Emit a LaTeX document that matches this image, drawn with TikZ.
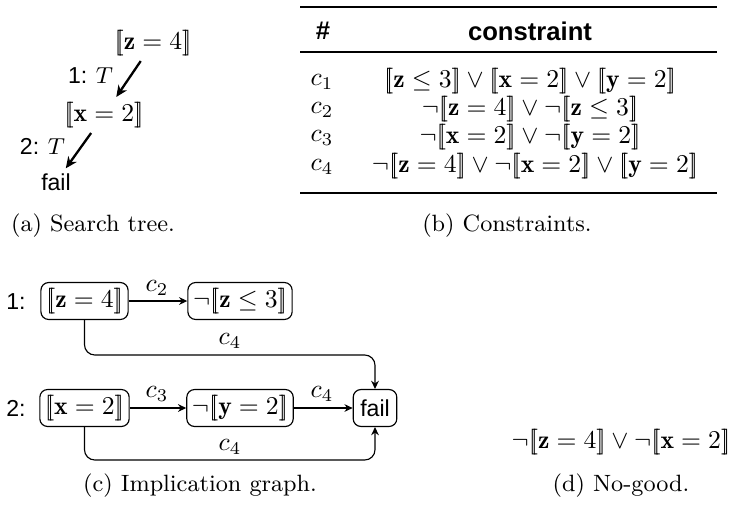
\documentclass[tikz,border=0pt]{standalone}
\usepackage{fontspec}
\newfontfamily\sansf{Liberation Sans}
\usetikzlibrary{arrows.meta}
\newcommand{\lb}{\mathopen{[\mkern-3.5mu[}}
\newcommand{\rb}{\mathclose{]\mkern-3.5mu]}}
\newcommand{\bz}{\mathbf{z}}
\newcommand{\bx}{\mathbf{x}}
\newcommand{\by}{\mathbf{y}}
\newcommand{\sfs}{\sansf\fontsize{9}{11}\selectfont}
\begin{document}
\begin{tikzpicture}[x=0.39pt,y=-0.39pt,
  box/.style={draw, rounded corners=3pt, minimum height=14.4pt, inner xsep=2pt, inner ysep=1pt, line width=0.45pt},
  arr/.style={-{Stealth[length=3.2pt,width=3pt]}, line width=0.45pt},
  treearr/.style={-{Stealth[length=4.5pt,width=4pt]}, line width=0.9pt, shorten <=1pt, shorten >=1pt},
  tnode/.style={inner sep=1pt},
  lbl/.style={inner sep=1pt},
  captxt/.style={font=\fontsize{9.2}{11}\selectfont},
  rule/.style={line width=0.45pt},
  thickrule/.style={line width=0.8pt}]
\useasboundingbox (0,0) rectangle (731,507);
% (a) search tree
\node[tnode] (tz) at (153,43) {$\lb\bz = 4\rb$};
\node[tnode] (tx) at (104,115) {$\lb\bx = 2\rb$};
\node[tnode] (tf) at (56,182) {\sfs fail};
\draw[treearr] (tz) -- (tx);
\draw[treearr] (tx) -- (tf);
\node[anchor=east, lbl] (t1) at (116,76) {\sfs 1: $T$};
\node[anchor=east, lbl] (t2) at (68,146) {\sfs 2: $T$};
\node[captxt] (capa) at (93,226) {(a) Search tree.};
% (b) constraints
\draw[thickrule] (300,7) -- (717,7);
\draw[rule] (300,52) -- (717,52);
\draw[thickrule] (300,193) -- (717,193);
\node (hh) at (323,31) {\sansf\bfseries \#};
\node (hc) at (530,31) {\sansf\bfseries constraint};
\node (r1a) at (322,82) {$c_1$};
\node (r1b) at (530,81) {$\lb\bz \le 3\rb \vee \lb\bx = 2\rb \vee \lb\by = 2\rb$};
\node (r2a) at (322,110) {$c_2$};
\node (r2b) at (530,109) {$\neg\lb\bz = 4\rb \vee \neg\lb\bz \le 3\rb$};
\node (r3a) at (322,138) {$c_3$};
\node (r3b) at (530,137) {$\neg\lb\bx = 2\rb \vee \neg\lb\by = 2\rb$};
\node (r4a) at (322,167) {$c_4$};
\node (r4b) at (535,166) {$\neg\lb\bz = 4\rb \vee \neg\lb\bx = 2\rb \vee \lb\by = 2\rb$};
\node[captxt] (capb) at (507,226) {(b) Constraints.};
% (c) implication graph
\node (l1) at (16,302) {\sfs 1:};
\node (l2) at (16,408) {\sfs 2:};
\node[box] (gz) at (84.5,301) {$\lb\bz = 4\rb$};
\node[box] (gnz) at (240,301) {$\neg\lb\bz \le 3\rb$};
\node[box] (gx) at (84.5,408) {$\lb\bx = 2\rb$};
\node[box] (gny) at (240,408) {$\neg\lb\by = 2\rb$};
\node[box, minimum width=17pt] (gf) at (375,408) {\sfs fail};
\draw[arr] (gz) -- (gnz);
\draw[arr] (gx) -- (gny);
\draw[arr] (gny) -- (gf);
\draw[arr, rounded corners=4pt] (gz.south) -- (gz.south |- 0,355) -- (gf.north |- 0,355) -- (gf.north);
\draw[arr, rounded corners=4pt] (gx.south) -- (gx.south |- 0,460) -- (gf.south |- 0,460) -- (gf.south);
\node[lbl] (e1) at (157,288) {$c_2$};
\node[lbl] (e2) at (157,394) {$c_3$};
\node[lbl] (e3) at (322,394) {$c_4$};
\node[lbl] (e4) at (230,341) {$c_4$};
\node[lbl] (e5) at (230,447) {$c_4$};
\node[captxt] (capc) at (200,486) {(c) Implication graph.};
% (d) no-good
\node (ng) at (621,442) {$\neg\lb\bz = 4\rb \vee \neg\lb\bx = 2\rb$};
\node[captxt] (capd) at (621,486) {(d) No-good.};
\end{tikzpicture}
\end{document}
